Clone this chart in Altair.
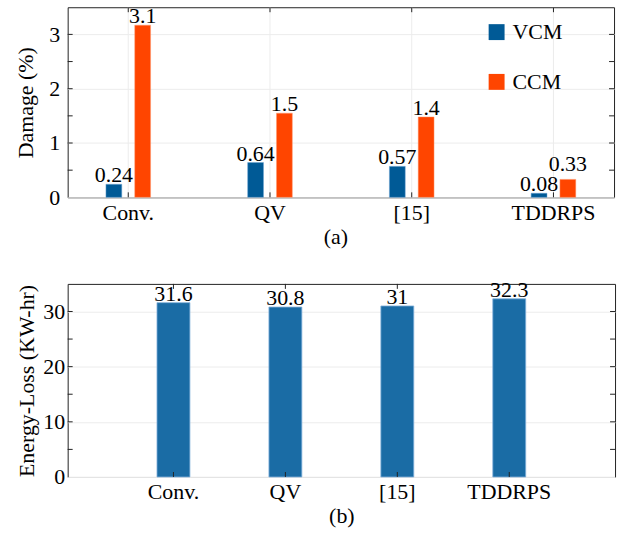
import altair as alt
import pandas as pd

# ---------------- data ----------------
categories = ["Conv.", "QV", "[15]", "TDDRPS"]
series = ["VCM", "CCM"]
vcm_damage = [0.24, 0.64, 0.57, 0.075]
ccm_damage = [3.17, 1.55, 1.48, 0.33]
vcm_labels = ["0.24", "0.64", "0.57", "0.08"]
ccm_labels = ["3.1", "1.5", "1.4", "0.33"]
energy_loss = [31.6, 30.8, 31.0, 32.3]
energy_labels = ["31.6", "30.8", "31", "32.3"]
damage_ticks = [0.5, 1.0, 1.5, 2.0, 2.5, 3.0]
energy_ticks = [5, 10, 15, 20, 25, 30]

FONT = "Liberation Serif, Times New Roman, serif"
W1, H1 = 549, 191
W2, H2 = 550, 194
TICK = 5
GRID = "#ececec"
FRAME = "#222222"

dmg = pd.DataFrame({
    "cat": categories * 2,
    "series": ["VCM"] * 4 + ["CCM"] * 4,
    "value": vcm_damage + ccm_damage,
    "label": vcm_labels + ccm_labels,
})
cats_df = pd.DataFrame({"cat": categories})
dticks_df = pd.DataFrame({"v": damage_ticks})
en = pd.DataFrame({"cat": categories, "value": energy_loss, "label": energy_labels})
eticks_df = pd.DataFrame({"v": energy_ticks})


def xaxis(title, **kw):
    return alt.Axis(title=title, labelAngle=0, labelAlign="center", bandPosition=0.5,
                    domain=False, ticks=False, grid=False,
                    labelPadding=5, titlePadding=3, labelFontSize=22, titleFontSize=22,
                    labelFont=FONT, titleFont=FONT, titleFontWeight="normal",
                    labelColor="black", titleColor="black", **kw)


def xc():
    return alt.X("cat:N", sort=categories, bandPosition=0.5)


# ---------------- top panel ----------------
x1 = alt.X("cat:N", sort=categories,
           scale=alt.Scale(domain=categories, paddingInner=0.685, paddingOuter=0.27),
           axis=xaxis("(a)", titleX=269))
y1 = alt.Y("value:Q", scale=alt.Scale(domain=[0, 3.5], nice=False),
           axis=alt.Axis(title="Damage (%)", values=[0, 0.5, 1, 1.5, 2, 2.5, 3, 3.5],
                         labelExpr="datum.value % 1 == 0 && datum.value < 3.5 ? format(datum.value, 'd') : ''",
                         domain=False, ticks=False, grid=True, gridColor=GRID, gridWidth=1,
                         labelPadding=8, titlePadding=11, labelFontSize=22, titleFontSize=22,
                         labelFont=FONT, titleFont=FONT, titleFontWeight="normal",
                         labelColor="black", titleColor="black"))
xoff = alt.XOffset("series:N", scale=alt.Scale(domain=series, paddingInner=0.45, paddingOuter=0))

base1 = alt.Chart(dmg)
bars1 = base1.mark_bar(strokeWidth=0.8, strokeOpacity=0.6).encode(
    x=x1, xOffset=xoff, y=y1,
    color=alt.Color("series:N",
                    scale=alt.Scale(domain=series, range=["#005a96", "#ff4500"]),
                    legend=alt.Legend(title=None, orient="none", legendX=420, legendY=14,
                                      symbolType="square", symbolSize=256, symbolStrokeWidth=0,
                                      labelFontSize=22, labelFont=FONT, labelColor="black",
                                      rowPadding=28, labelOffset=5, padding=0)),
    stroke=alt.Stroke("series:N", scale=alt.Scale(domain=series, range=["#6da4d4", "#ff9a70"]),
                      legend=None),
)
xgrid1 = alt.Chart(cats_df).mark_rule(color=GRID, strokeWidth=1).encode(
    x=xc(), y=alt.value(0), y2=alt.value(H1))
text_enc = dict(x=alt.X("cat:N", sort=categories), xOffset=xoff, y=alt.Y("value:Q"), text="label:N")
text1 = base1.transform_filter("datum.label != '0.33'").mark_text(
    baseline="alphabetic", dy=-2, fontSize=22, font=FONT, color="black").encode(**text_enc)
text1b = base1.transform_filter("datum.label == '0.33'").mark_text(
    baseline="alphabetic", dy=-8, fontSize=22, font=FONT, color="black").encode(**text_enc)
ltick1 = alt.Chart(dticks_df).mark_rule(color=FRAME).encode(
    y=alt.Y("v:Q"), x=alt.value(0), x2=alt.value(TICK))
rtick1 = alt.Chart(dticks_df).mark_rule(color=FRAME).encode(
    y=alt.Y("v:Q"), x=alt.value(W1 - TICK), x2=alt.value(W1))
btick1 = alt.Chart(cats_df).mark_rule(color=FRAME).encode(
    x=xc(), y=alt.value(H1 - TICK), y2=alt.value(H1))
ttick1 = alt.Chart(cats_df).mark_rule(color=FRAME).encode(
    x=xc(), y=alt.value(0), y2=alt.value(TICK))

top = alt.layer(bars1, xgrid1, text1, text1b, ltick1, rtick1, btick1, ttick1).properties(
    width=W1, height=H1)

# ---------------- bottom panel ----------------
x2 = alt.X("cat:N", sort=categories,
           scale=alt.Scale(domain=categories, paddingInner=0.706, paddingOuter=0.798),
           axis=xaxis("(b)"))
y2 = alt.Y("value:Q", scale=alt.Scale(domain=[0, 35], nice=False),
           axis=alt.Axis(title="Energy-Loss (KW-hr)", values=[0, 5, 10, 15, 20, 25, 30, 35],
                         labelExpr="datum.value % 10 == 0 && datum.value < 35 ? format(datum.value, 'd') : ''",
                         domain=False, ticks=False, grid=True, gridColor=GRID, gridWidth=1,
                         labelPadding=3, titlePadding=4, labelFontSize=22, titleFontSize=22,
                         labelFont=FONT, titleFont=FONT, titleFontWeight="normal",
                         labelColor="black", titleColor="black"))
base2 = alt.Chart(en)
bars2 = base2.mark_bar(color="#1a6ca5", stroke="#7fb0da", strokeWidth=0.8).encode(x=x2, y=y2)
text2 = base2.mark_text(baseline="alphabetic", dy=-2, fontSize=22, font=FONT, color="black").encode(
    x=alt.X("cat:N", sort=categories), y=alt.Y("value:Q"), text="label:N")
ltick2 = alt.Chart(eticks_df).mark_rule(color=FRAME).encode(
    y=alt.Y("v:Q"), x=alt.value(0), x2=alt.value(TICK))
rtick2 = alt.Chart(eticks_df).mark_rule(color=FRAME).encode(
    y=alt.Y("v:Q"), x=alt.value(W2 - TICK), x2=alt.value(W2))
btick2 = alt.Chart(cats_df).mark_rule(color=FRAME).encode(
    x=xc(), y=alt.value(H2 - TICK), y2=alt.value(H2))
ttick2 = alt.Chart(cats_df).mark_rule(color=FRAME).encode(
    x=xc(), y=alt.value(0), y2=alt.value(TICK))

bottom = alt.layer(bars2, text2, ltick2, rtick2, btick2, ttick2).properties(
    width=W2, height=H2)

chart = alt.vconcat(top, bottom, spacing=87, bounds="flush").properties(
    padding={"left": 14, "top": 3, "right": 7, "bottom": 0},
    background="white",
).configure_view(stroke=FRAME, strokeWidth=1).configure_concat(spacing=87)

chart.save("out.html", embed_options={"renderer": "svg", "actions": False})
